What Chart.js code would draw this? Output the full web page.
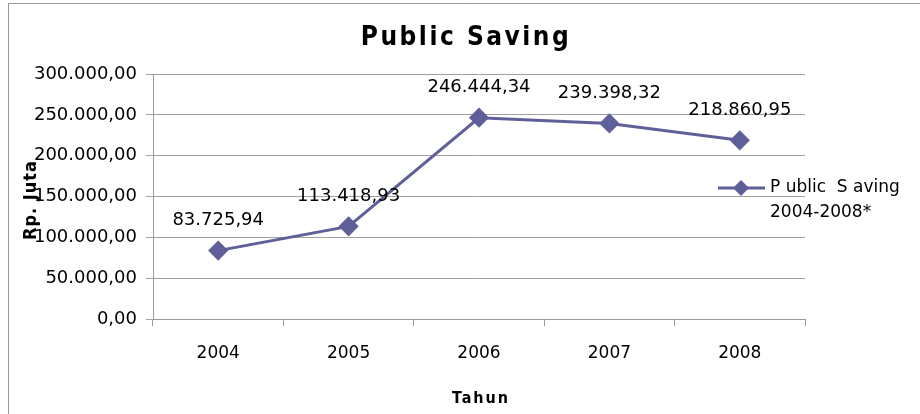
<!DOCTYPE html>
<html>
<head>
<meta charset="utf-8">
<script src="https://cdn.jsdelivr.net/npm/chart.js@4.4.1/dist/chart.umd.min.js"></script>
<style>
  body { margin: 0; background: #fff; }
  #wrap { width: 920px; height: 414px; position: relative; }
</style>
</head>
<body>
<div id="wrap"><canvas id="myChart" width="920" height="414"></canvas></div>
<script>
// data
const years = ["2004", "2005", "2006", "2007", "2008"];
const saving = [83725.94, 113418.93, 246444.34, 239398.32, 218860.95];
const savingLabels = ["83.725,94", "113.418,93", "246.444,34", "239.398,32", "218.860,95"];
const seriesName = ["P ublic  S aving", "2004-2008*"];

const lineColor = "#5f5f99";
const ctx = document.getElementById("myChart");

// indonesian number format, 2 decimals
const fmt = (v) => {
  const parts = v.toFixed(2).split(".");
  return parts[0].replace(/\B(?=(\d{3})+(?!\d))/g, ".") + "," + parts[1];
};

const diamond = (c, x, y, r) => {
  c.beginPath();
  c.moveTo(x, y - r);
  c.lineTo(x + r, y);
  c.lineTo(x, y + r);
  c.lineTo(x - r, y);
  c.closePath();
  c.fill();
};

// extra drawing: frame, title, axis titles, value labels, legend
const extras = {
  id: "extras",
  afterDraw(chart) {
    const c = chart.ctx;
    c.save();
    c.strokeStyle = "#9a9a9a";
    c.lineWidth = 1;
    c.beginPath();
    c.moveTo(8.5, 420);
    c.lineTo(8.5, 3.5);
    c.lineTo(920, 3.5);
    c.stroke();

    c.fillStyle = "#000";
    c.textAlign = "center";
    c.textBaseline = "middle";
    c.font = "bold 26px 'DejaVu Sans Condensed', 'DejaVu Sans'";
    c.letterSpacing = "2.5px";
    c.fillText("Public Saving", 466, 38);
    c.font = "bold 16px 'DejaVu Sans Condensed', 'DejaVu Sans'";
    c.letterSpacing = "2px";
    c.fillText("Tahun", 481, 399);
    c.translate(31, 200);
    c.rotate(-Math.PI / 2);
    c.font = "bold 18px 'DejaVu Sans Condensed', 'DejaVu Sans'";
    c.letterSpacing = "1px";
    c.fillText("Rp. Juta", 0, 0);
    c.setTransform(1, 0, 0, 1, 0, 0);
    c.letterSpacing = "0px";

    // value labels above points
    c.font = "18px 'DejaVu Sans'";
    const meta = chart.getDatasetMeta(0);
    meta.data.forEach((pt, i) => {
      c.fillText(savingLabels[i], pt.x, pt.y - 30);
    });

    // legend
    c.strokeStyle = lineColor;
    c.fillStyle = lineColor;
    c.lineWidth = 3;
    c.beginPath();
    c.moveTo(718, 188);
    c.lineTo(765, 188);
    c.stroke();
    diamond(c, 741, 188, 8);
    c.fillStyle = "#000";
    c.textAlign = "left";
    c.font = "17px 'DejaVu Sans'";
    c.fillText(seriesName[0], 770, 188);
    c.fillText(seriesName[1], 770, 213);
    c.restore();
  }
};

const myChart = new Chart(ctx, {
  type: "line",
  data: {
    labels: years,
    datasets: [
      {
        label: seriesName.join(" "),
        data: saving,
        borderColor: lineColor,
        backgroundColor: lineColor,
        borderWidth: 3,
        pointStyle: "rectRot",
        pointRadius: 8,
        pointHoverRadius: 8,
        tension: 0
      }
    ]
  },
  options: {
    responsive: false,
    animation: false,
    layout: { padding: { top: 74, right: 115, left: 0, bottom: 0 } },
    plugins: {
      legend: { display: false },
      tooltip: { enabled: false },
      title: { display: false }
    },
    scales: {
      x: {
        offset: true,
        grid: {
          offset: true,
          drawOnChartArea: false,
          color: "#9a9a9a",
          tickLength: 7
        },
        border: { color: "#9a9a9a" },
        ticks: {
          color: "#000",
          font: { family: "DejaVu Sans", size: 17 },
          padding: 17
        },
        afterFit: (scale) => { scale.height = 95; }
      },
      y: {
        min: 0,
        max: 300000,
        ticks: {
          stepSize: 50000,
          color: "#000",
          font: { family: "DejaVu Sans", size: 18 },
          padding: 9,
          callback: (v) => fmt(v)
        },
        grid: { color: "#a0a0a0", tickLength: 7 },
        border: { color: "#9a9a9a" },
        afterFit: (scale) => { scale.width = 153; }
      }
    }
  },
  plugins: [extras]
});
</script>
</body>
</html>
